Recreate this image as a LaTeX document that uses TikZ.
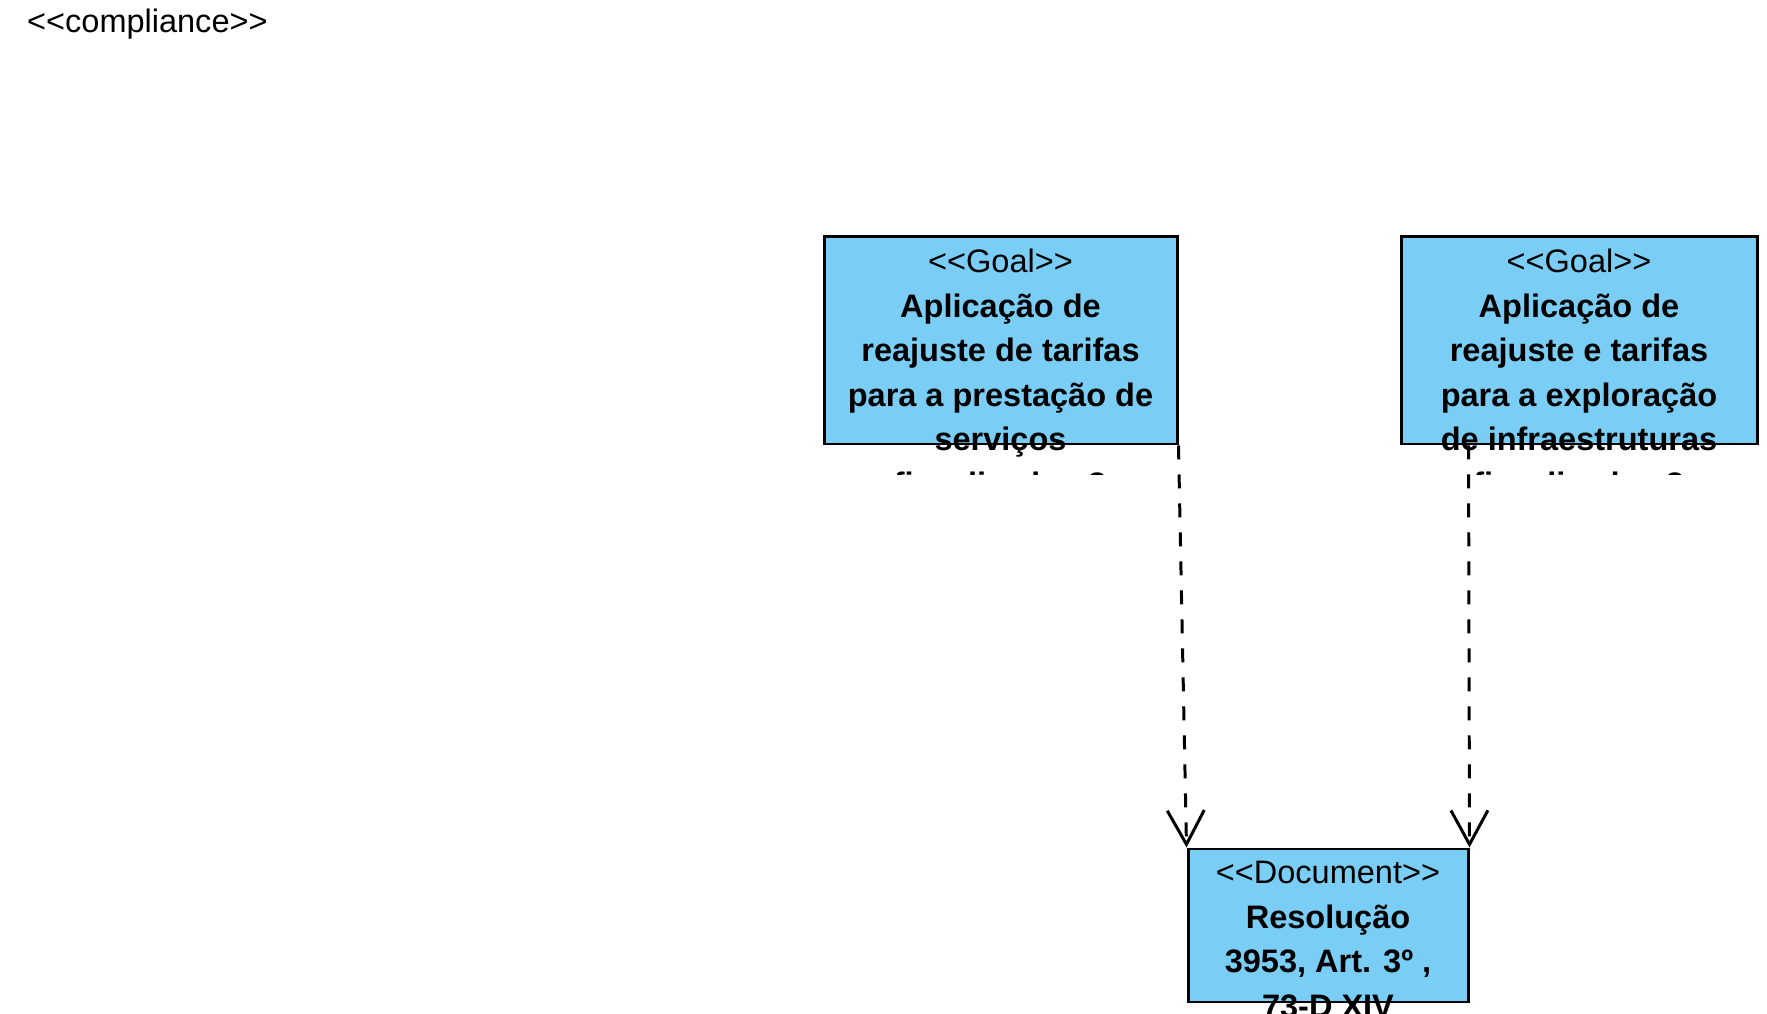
\documentclass[tikz,border=0pt]{standalone}
\usepackage{fontspec}
\setmainfont{Liberation Sans}
\usetikzlibrary{arrows.meta, positioning, calc}
\definecolor{elementblue}{RGB}{122,206,245}
\tikzset{
    element/.style={rectangle, draw=black, fill=elementblue, line width=0.85pt, inner sep=0pt},
    boxtext/.style={align=center, inner sep=0pt, font={\fontsize{9.25}{12.66}\selectfont}},
    trace/.style={-{Straight Barb[length=3.4mm, width=3.7mm]}, line width=0.85pt, dash pattern=on 1.4mm off 1.5mm},
}
\begin{document}
\begin{tikzpicture}
    \useasboundingbox (0,0) rectangle (17.67,-10.14);
    \clip (0,0) rectangle (17.67,-10.14);
    \node[boxtext, anchor=base west] (compliance) at (0.265,-0.33) {<{}<compliance>{}>};
    % elements
    \node[element, minimum width=3.53cm, minimum height=2.07cm] (goalA) at (10.005,-3.405) {};
    \node[element, minimum width=3.56cm, minimum height=2.07cm] (goalB) at (15.79,-3.405) {};
    \node[element, minimum width=2.8cm, minimum height=1.53cm] (doc) at (13.28,-9.255) {};
    \begin{scope}
        \clip (8,-2) rectangle (17.67,-4.75);
        \node[boxtext, below=0.13cm of goalA.north] (goalAtext) {<{}<Goal>{}>\\ \textbf{Aplicação de}\\ \textbf{reajuste de tarifas}\\ \textbf{para a prestação de}\\ \textbf{serviços}\\ \textbf{fiscalizados ?}};
        \node[boxtext, below=0.13cm of goalB.north] (goalBtext) {<{}<Goal>{}>\\ \textbf{Aplicação de}\\ \textbf{reajuste e tarifas}\\ \textbf{para a exploração}\\ \textbf{de infraestruturas}\\ \textbf{fiscalizadas ?}};
    \end{scope}
    \node[boxtext, below=0.13cm of doc.north] (doctext) {<{}<Document>{}>\\ \textbf{Resolução}\\ \textbf{3953, Art. 3º ,}\\ \textbf{73-D XIV}};
    % traces
    \coordinate (goalBout) at ($(goalB.south west)+(0.69,0)$);
    \draw[trace] (goalA.south east) -- (doc.north west);
    \draw[trace] (goalBout) -- (doc.north east);
\end{tikzpicture}
\end{document}
